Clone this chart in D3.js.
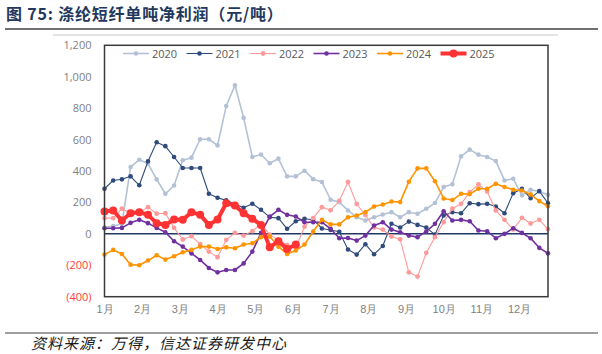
<!DOCTYPE html>
<html>
<head>
<meta charset="utf-8">
<script src="https://cdn.jsdelivr.net/npm/d3@7"></script>
<style>
  body { margin: 0; background: #fff; }
  svg { display: block; font-family: "Noto Sans CJK SC", "Noto Sans", sans-serif; }
  .tick-label { font-size: 11px; fill: #7f7f7f; }
  .legend-label { font-size: 11px; fill: #595959; }
</style>
</head>
<body>
<svg id="chart" width="602" height="354"></svg>
<script>
// weekly values, 元/吨
const v2020 = [40, 49, 64, 425, 472, 447, 347, 255, 308, 468, 485, 602, 602, 563, 814, 946, 738, 489, 505, 449,
  479, 366, 366, 402, 348, 330, 217, 202, 149, 106, 85, 106, 123, 138, 106, 138, 128, 160, 196, 298,
  315, 493, 536, 504, 489, 463, 340, 351, 245, 281, 270, 249]
const v2021 = [287, 340, 347, 366, 309, 462, 583, 558, 489, 419, 419, 419, 255, 230, 213, 190, 166, 192, 153, 106,
  100, 32, 80, 96, 90, 34, 25, 13, -100, -132, -66, -130, -77, 64, 40, 78, 57, 40, -5, 117,
  138, 131, 195, 189, 191, 174, 131, 259, 287, 227, 272, 195]
const v2022 = [100, 100, 160, 131, 135, 170, 128, 131, 38, -36, -15, -65, -113, -149, -38, 6, -11, 17, 64, -5,
  -40, -70, -90, 45, 100, 170, 150, 210, 330, 190, 120, 40, 27, -17, -35, -245, -272, -121, -21, 74,
  160, 191, 266, 315, 270, 149, 89, 28, 102, 66, 89, 30]
const v2023 = [36, 36, 38, 70, 89, 68, 38, 10, -47, -81, -124, -166, -217, -245, -230, -230, -188, -113, 6, 110,
  153, 121, 110, 74, 74, 74, 32, -28, -26, -43, -11, 53, 74, 27, 10, -11, -21, 15, 64, 144,
  85, 89, 80, 21, 17, -28, 0, 36, 6, -28, -89, -124]
const v2024 = [-132, -102, -128, -196, -200, -170, -136, -164, -143, -117, -102, -81, -81, -96, -86, -92, -68, -60, -21, -17,
  -81, -128, -106, -68, 15, 90, 60, 60, 106, 117, 138, 174, 187, 206, 202, 332, 417, 417, 335, 225,
  215, 255, 253, 287, 287, 319, 298, 281, 276, 251, 208, 176]
const v2025 = [142, 149, 85, 131, 138, 121, 68, 57, 91, 89, 138, 121, 57, 91, 195, 181, 131, 96, 57, -86,
  -47, -96, -68]

const years = ['2020', '2021', '2022', '2023', '2024', '2025']
const seriesValues = [v2020, v2021, v2022, v2023, v2024, v2025]
const months = ['1月', '2月', '3月', '4月', '5月', '6月', '7月', '8月', '9月', '10月', '11月', '12月']
const monthWeeks = [0, 4.33, 8.67, 13, 17.33, 21.67, 26, 30.33, 34.67, 39, 43.33, 47.67]
const yTicks = [-400, -200, 0, 200, 400, 600, 800, 1000, 1200]

const styles = [
  {color: '#b4c1d5', width: 1.6, r: 2.3},
  {color: '#2e4b7b', width: 1.1, r: 2.3},
  {color: '#ff9a9a', width: 1.1, r: 2.4},
  {color: '#7030a0', width: 1.6, r: 2.3},
  {color: '#ff9300', width: 1.6, r: 2.3},
  {color: '#ff3333', width: 4, r: 4}
]

const svg = d3.select('#chart')
const plot = {left: 104.5, right: 548, top: 45.3, bottom: 296.7}

const xScale = d3.scaleLinear().domain([0, 51]).range([plot.left, plot.right])
const yScale = d3.scaleLinear().domain([-400, 1200]).range([plot.bottom, plot.top])

// title block
svg.append('text')
  .attr('x', 6).attr('y', 20)
  .style('font-size', '16px').style('font-weight', 'bold').style('fill', '#22385c')
  .style('letter-spacing', '0.8px')
  .text('图 75:  涤纶短纤单吨净利润（元/吨）')
svg.append('line')
  .attr('x1', 5).attr('x2', 598).attr('y1', 29).attr('y2', 29)
  .attr('stroke', '#404040').attr('stroke-width', 1.5)
svg.append('line')
  .attr('x1', 53).attr('x2', 558).attr('y1', 35).attr('y2', 35)
  .attr('stroke', '#c8c8c8').attr('stroke-width', 1)

// y axis labels
const yAxis = d3.axisLeft(yScale).tickValues(yTicks).tickSize(0).tickPadding(13)
  .tickFormat(d => d < 0 ? `(${d3.format(',')(-d)})` : d3.format(',')(d))
const yAxisG = svg.append('g').attr('transform', `translate(${plot.left},0)`).call(yAxis)
yAxisG.select('.domain').remove()
yAxisG.selectAll('text')
  .attr('class', 'tick-label')
  .style('font-family', '"Open Sans", "Noto Sans", sans-serif')
  .style('fill', d => d < 0 ? '#ff3b3b' : '#7f7f7f')

// x axis labels
const xAxis = d3.axisBottom(xScale).tickValues(monthWeeks).tickSize(0).tickPadding(9)
  .tickFormat((d, i) => months[i])
const xAxisG = svg.append('g').attr('transform', `translate(0,${plot.bottom})`).call(xAxis)
xAxisG.select('.domain').remove()
xAxisG.selectAll('text').attr('class', 'tick-label')

// zero line
svg.append('line')
  .attr('x1', plot.left).attr('x2', plot.right)
  .attr('y1', yScale(0)).attr('y2', yScale(0))
  .attr('stroke', '#1f3864').attr('stroke-width', 1.5)

// series
const line = d3.line().x((d, i) => xScale(i)).y(d => yScale(d))
seriesValues.forEach((vals, k) => {
  const s = styles[k]
  const g = svg.append('g')
  g.append('path')
    .attr('d', line(vals))
    .attr('fill', 'none')
    .attr('stroke', s.color)
    .attr('stroke-width', s.width)
    .attr('stroke-linejoin', 'round')
  g.selectAll('circle')
    .data(vals)
    .join('circle')
      .attr('cx', (d, i) => xScale(i))
      .attr('cy', d => yScale(d))
      .attr('r', s.r)
      .attr('fill', s.color)
})

// frame
svg.append('rect')
  .attr('x', plot.left).attr('y', plot.top)
  .attr('width', plot.right - plot.left).attr('height', plot.bottom - plot.top)
  .attr('fill', 'none').attr('stroke', '#3a3a3a').attr('stroke-width', 1.5)

// legend
const legend = svg.append('g').attr('transform', 'translate(123,53.5)')
years.forEach((yr, k) => {
  const s = styles[k]
  const item = legend.append('g').attr('transform', `translate(${k * 63.5},0)`)
  item.append('line')
    .attr('x1', 0).attr('x2', 26).attr('y1', 0).attr('y2', 0)
    .attr('stroke', s.color).attr('stroke-width', s.width)
  item.append('circle').attr('cx', 13).attr('cy', 0).attr('r', s.r).attr('fill', s.color)
  item.append('text')
    .attr('class', 'legend-label')
    .attr('x', 29).attr('y', 4)
    .style('font-family', '"Open Sans", "Noto Sans", sans-serif')
    .text(yr)
})

// source line
svg.append('line')
  .attr('x1', 5).attr('x2', 598).attr('y1', 333).attr('y2', 333)
  .attr('stroke', '#404040').attr('stroke-width', 1.2)
svg.append('text')
  .attr('x', 31).attr('y', 349)
  .style('font-size', '15px').style('font-style', 'italic').style('fill', '#1a1a1a')
  .style('letter-spacing', '1px')
  .text('资料来源：万得，信达证券研发中心')
</script>
</body>
</html>
